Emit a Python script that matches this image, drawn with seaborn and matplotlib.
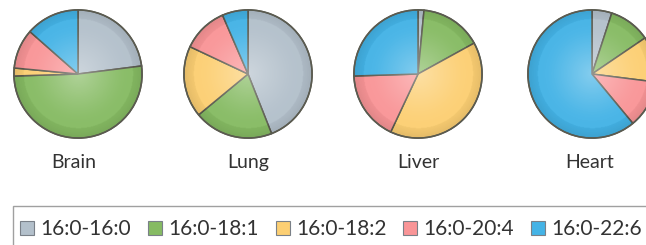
import numpy as np
import matplotlib
matplotlib.use("Agg")
import matplotlib.pyplot as plt
import seaborn as sns
from matplotlib.patches import Patch, Circle, Rectangle

sns.set_theme(style="white")
plt.rcParams['font.family'] = ['Lato', 'DejaVu Sans']

# ---- data ----
species = ["16:0-16:0", "16:0-18:1", "16:0-18:2", "16:0-20:4", "16:0-22:6"]
tissues = ["Brain", "Lung", "Liver", "Heart"]
brain = [23.0, 51.5, 2.0, 10.0, 13.5]
lung = [44.0, 20.0, 18.0, 11.5, 6.5]
liver = [1.5, 15.5, 40.0, 17.5, 25.5]
heart = [5.0, 10.5, 11.5, 12.0, 61.0]
values = [brain, lung, liver, heart]

colors = sns.color_palette(["#b3c0cb", "#86bb63", "#fccf73", "#f99597", "#44b3e6"])
edge = "#5b5b50"

W, H = 646, 245
fig = plt.figure(figsize=(W / 100, H / 100), dpi=100)

centers = [(78, 74), (248, 74), (418, 74), (592, 74)]
label_x = [74, 248, 418, 590]
R = 66

# radial gradient overlay
n = 200
yy, xx = np.mgrid[-1:1:n * 1j, -1:1:n * 1j]
rr = np.sqrt(xx ** 2 + yy ** 2)
over = np.zeros((n, n, 4))
light = np.clip(1 - rr / 0.85, 0, 1)
dark = np.clip((rr - 0.6) / 0.4, 0, 1)
over[..., :3] = np.where(light[..., None] > 0, 1.0, 0.0)
over[..., 3] = 0.35 * light ** 1.2 + 0.10 * dark ** 2

for vals, (cx, cy), name, lx in zip(values, centers, tissues, label_x):
    ax = fig.add_axes([(cx - R) / W, (H - cy - R) / H, 2 * R / W, 2 * R / H])
    wedges, _ = ax.pie(vals, colors=colors, startangle=90, counterclock=False,
                       radius=1.0,
                       wedgeprops=dict(edgecolor=edge, linewidth=1.1))
    img = ax.imshow(over, extent=(-1, 1, -1, 1), zorder=3, interpolation="bilinear")
    clip = Circle((0, 0), 1.0, transform=ax.transData)
    img.set_clip_path(clip)
    ax.add_patch(Circle((0, 0), 1.0, fill=False, edgecolor=edge, linewidth=1.1, zorder=4))
    ax.set_xlim(-1.03, 1.03)
    ax.set_ylim(-1.03, 1.03)
    ax.set_aspect("equal")
    ax.axis("off")
    fig.text(lx / W, 1 - 162 / H, name, ha="center", va="center",
             fontsize=14, color="#333333")

# legend frame (runs past the right and bottom edges)
fig.patches.append(Rectangle((12.5 / W, -10 / H), 700 / W, (245 - 206 + 10) / H,
                             transform=fig.transFigure, fill=False,
                             edgecolor="#a0a0a0", linewidth=1.0))

handles = [Patch(facecolor=c, edgecolor="#7a8088", linewidth=0.8) for c in colors]
leg = fig.legend(handles, species, ncol=5, loc="center left",
                 bbox_to_anchor=(14 / W, 1 - 229 / H), borderaxespad=0,
                 fontsize=15, frameon=False,
                 handlelength=0.68, handleheight=0.68, handletextpad=0.3,
                 columnspacing=0.8, borderpad=0.3, labelcolor="#333333")

fig.savefig("out.png", dpi=100)
